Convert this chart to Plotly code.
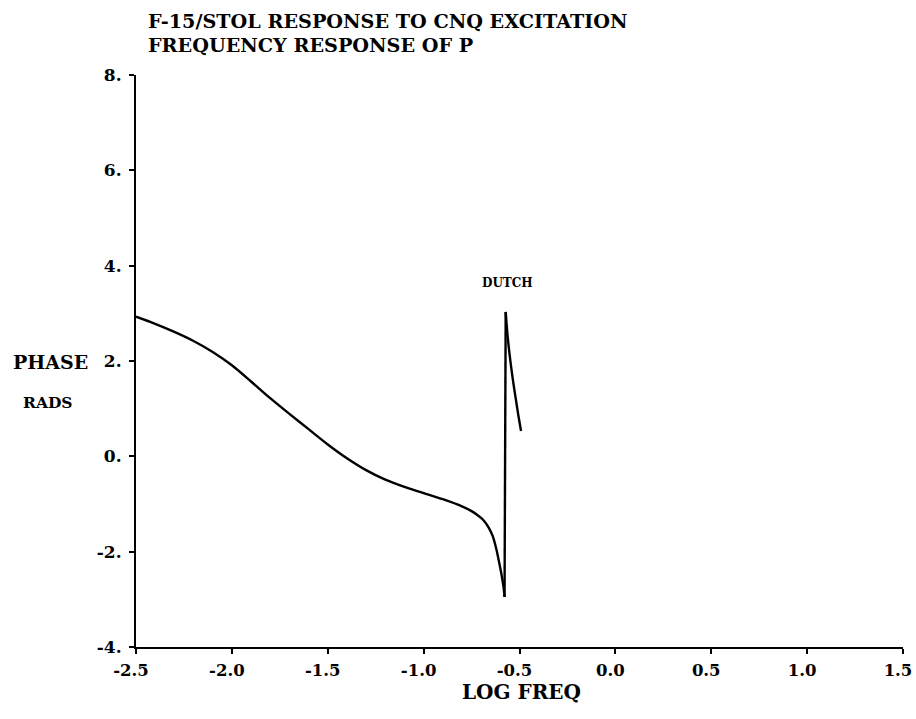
import plotly.graph_objects as go

# Phase of P versus log10 frequency (rad)
log_freq = [-2.50, -2.40, -2.30, -2.20, -2.10, -2.00, -1.90, -1.80, -1.70, -1.60,
            -1.50, -1.40, -1.30, -1.20, -1.10, -1.00, -0.90, -0.80, -0.75, -0.72,
            -0.69, -0.66, -0.64, -0.62, -0.605, -0.592, -0.583, -0.578,
            -0.572, -0.562, -0.550, -0.535, -0.520, -0.506, -0.492]
phase = [2.93, 2.78, 2.61, 2.42, 2.19, 1.91, 1.57, 1.22, 0.89, 0.57,
         0.25, -0.04, -0.29, -0.49, -0.64, -0.77, -0.90, -1.05, -1.15, -1.23,
         -1.33, -1.50, -1.67, -1.96, -2.25, -2.52, -2.75, -2.95,
         3.03, 2.52, 2.08, 1.62, 1.22, 0.86, 0.53]

x_ticks = [-2.5, -2.0, -1.5, -1.0, -0.5, 0.0, 0.5, 1.0, 1.5]
x_tick_text = ["-2.5", "-2.0", "-1.5", "-1.0", "-0.5", "0.0", "0.5", "1.0", "1.5"]
y_ticks = [-4, -2, 0, 2, 4, 6, 8]
y_tick_text = ["-4.", "-2.", "0.", "2.", "4.", "6.", "8."]

title_lines = ["F-15/STOL RESPONSE TO CNQ EXCITATION", "FREQUENCY RESPONSE OF P"]
mode_label = "DUTCH"
mode_label_pos = (-0.565, 3.45)

FONT = "DejaVu Serif"

# the phase wraps at the Dutch-roll frequency: split the curve there so the
# smooth branches can be splined while the jump stays a straight stroke
wrap = phase.index(min(phase))

segments = [
    (log_freq[:wrap + 1], phase[:wrap + 1], "spline"),
    (log_freq[wrap:wrap + 2], phase[wrap:wrap + 2], "linear"),
    (log_freq[wrap + 1:], phase[wrap + 1:], "spline"),
]

fig = go.Figure()
for xs, ys, shape in segments:
    fig.add_trace(go.Scatter(
        x=xs, y=ys, mode="lines",
        line=dict(color="black", width=2.4, shape=shape, smoothing=0.8),
        showlegend=False, hoverinfo="skip",
    ))

axis_common = dict(
    showgrid=False, zeroline=False, showline=True, linecolor="black",
    linewidth=2, ticks="outside", ticklen=5, tickwidth=2, tickcolor="black",
    automargin=False, ticklabeloverflow="allow",
)

fig.update_xaxes(range=[-2.5, 1.5], tickmode="array", tickvals=x_ticks,
                 ticktext=x_tick_text, ticklabelstandoff=2, ticklabelshift=-5,
                 tickfont=dict(family=FONT, size=16.5, color="black", weight="bold"),
                 **axis_common)
fig.update_yaxes(range=[-4, 8], tickmode="array", tickvals=y_ticks,
                 ticktext=y_tick_text, ticklabelstandoff=4,
                 tickfont=dict(family=FONT, size=17, color="black", weight="bold"),
                 **axis_common)

annotations = [
    dict(text="<b>" + title_lines[0] + "</b>", xref="paper", yref="paper",
         x=(146 - 136) / 767, y=1 + (75 - 8) / 572, xanchor="left", yanchor="top",
         showarrow=False, font=dict(family=FONT, size=19.2, color="black")),
    dict(text="<b>" + title_lines[1] + "</b>", xref="paper", yref="paper",
         x=(146 - 136) / 767, y=1 + (75 - 32) / 572, xanchor="left", yanchor="top",
         showarrow=False, font=dict(family=FONT, size=19.2, color="black")),
    dict(text="<b>PHASE</b>", xref="paper", yref="paper",
         x=(11 - 136) / 767, y=(647 - 362) / 572, xanchor="left", yanchor="middle",
         showarrow=False, font=dict(family=FONT, size=19, color="black")),
    dict(text="<b>RADS</b>", xref="paper", yref="paper",
         x=(21 - 136) / 767, y=(647 - 402) / 572, xanchor="left", yanchor="middle",
         showarrow=False, font=dict(family=FONT, size=15.5, color="black")),
    dict(text="<b>LOG FREQ</b>", xref="paper", yref="paper",
         x=(521 - 136) / 767, y=-(692 - 647) / 572, xanchor="center", yanchor="middle",
         showarrow=False, font=dict(family=FONT, size=20, color="black")),
    dict(text="<b>" + mode_label + "</b>", x=mode_label_pos[0], y=mode_label_pos[1],
         xanchor="center", yanchor="bottom", showarrow=False,
         font=dict(family=FONT, size=12, color="black")),
]

fig.update_layout(
    width=916, height=719, autosize=False,
    margin=dict(l=136, r=13, t=75, b=72, autoexpand=False),
    plot_bgcolor="white", paper_bgcolor="white",
    annotations=annotations,
)

fig.write_html("out.html")
